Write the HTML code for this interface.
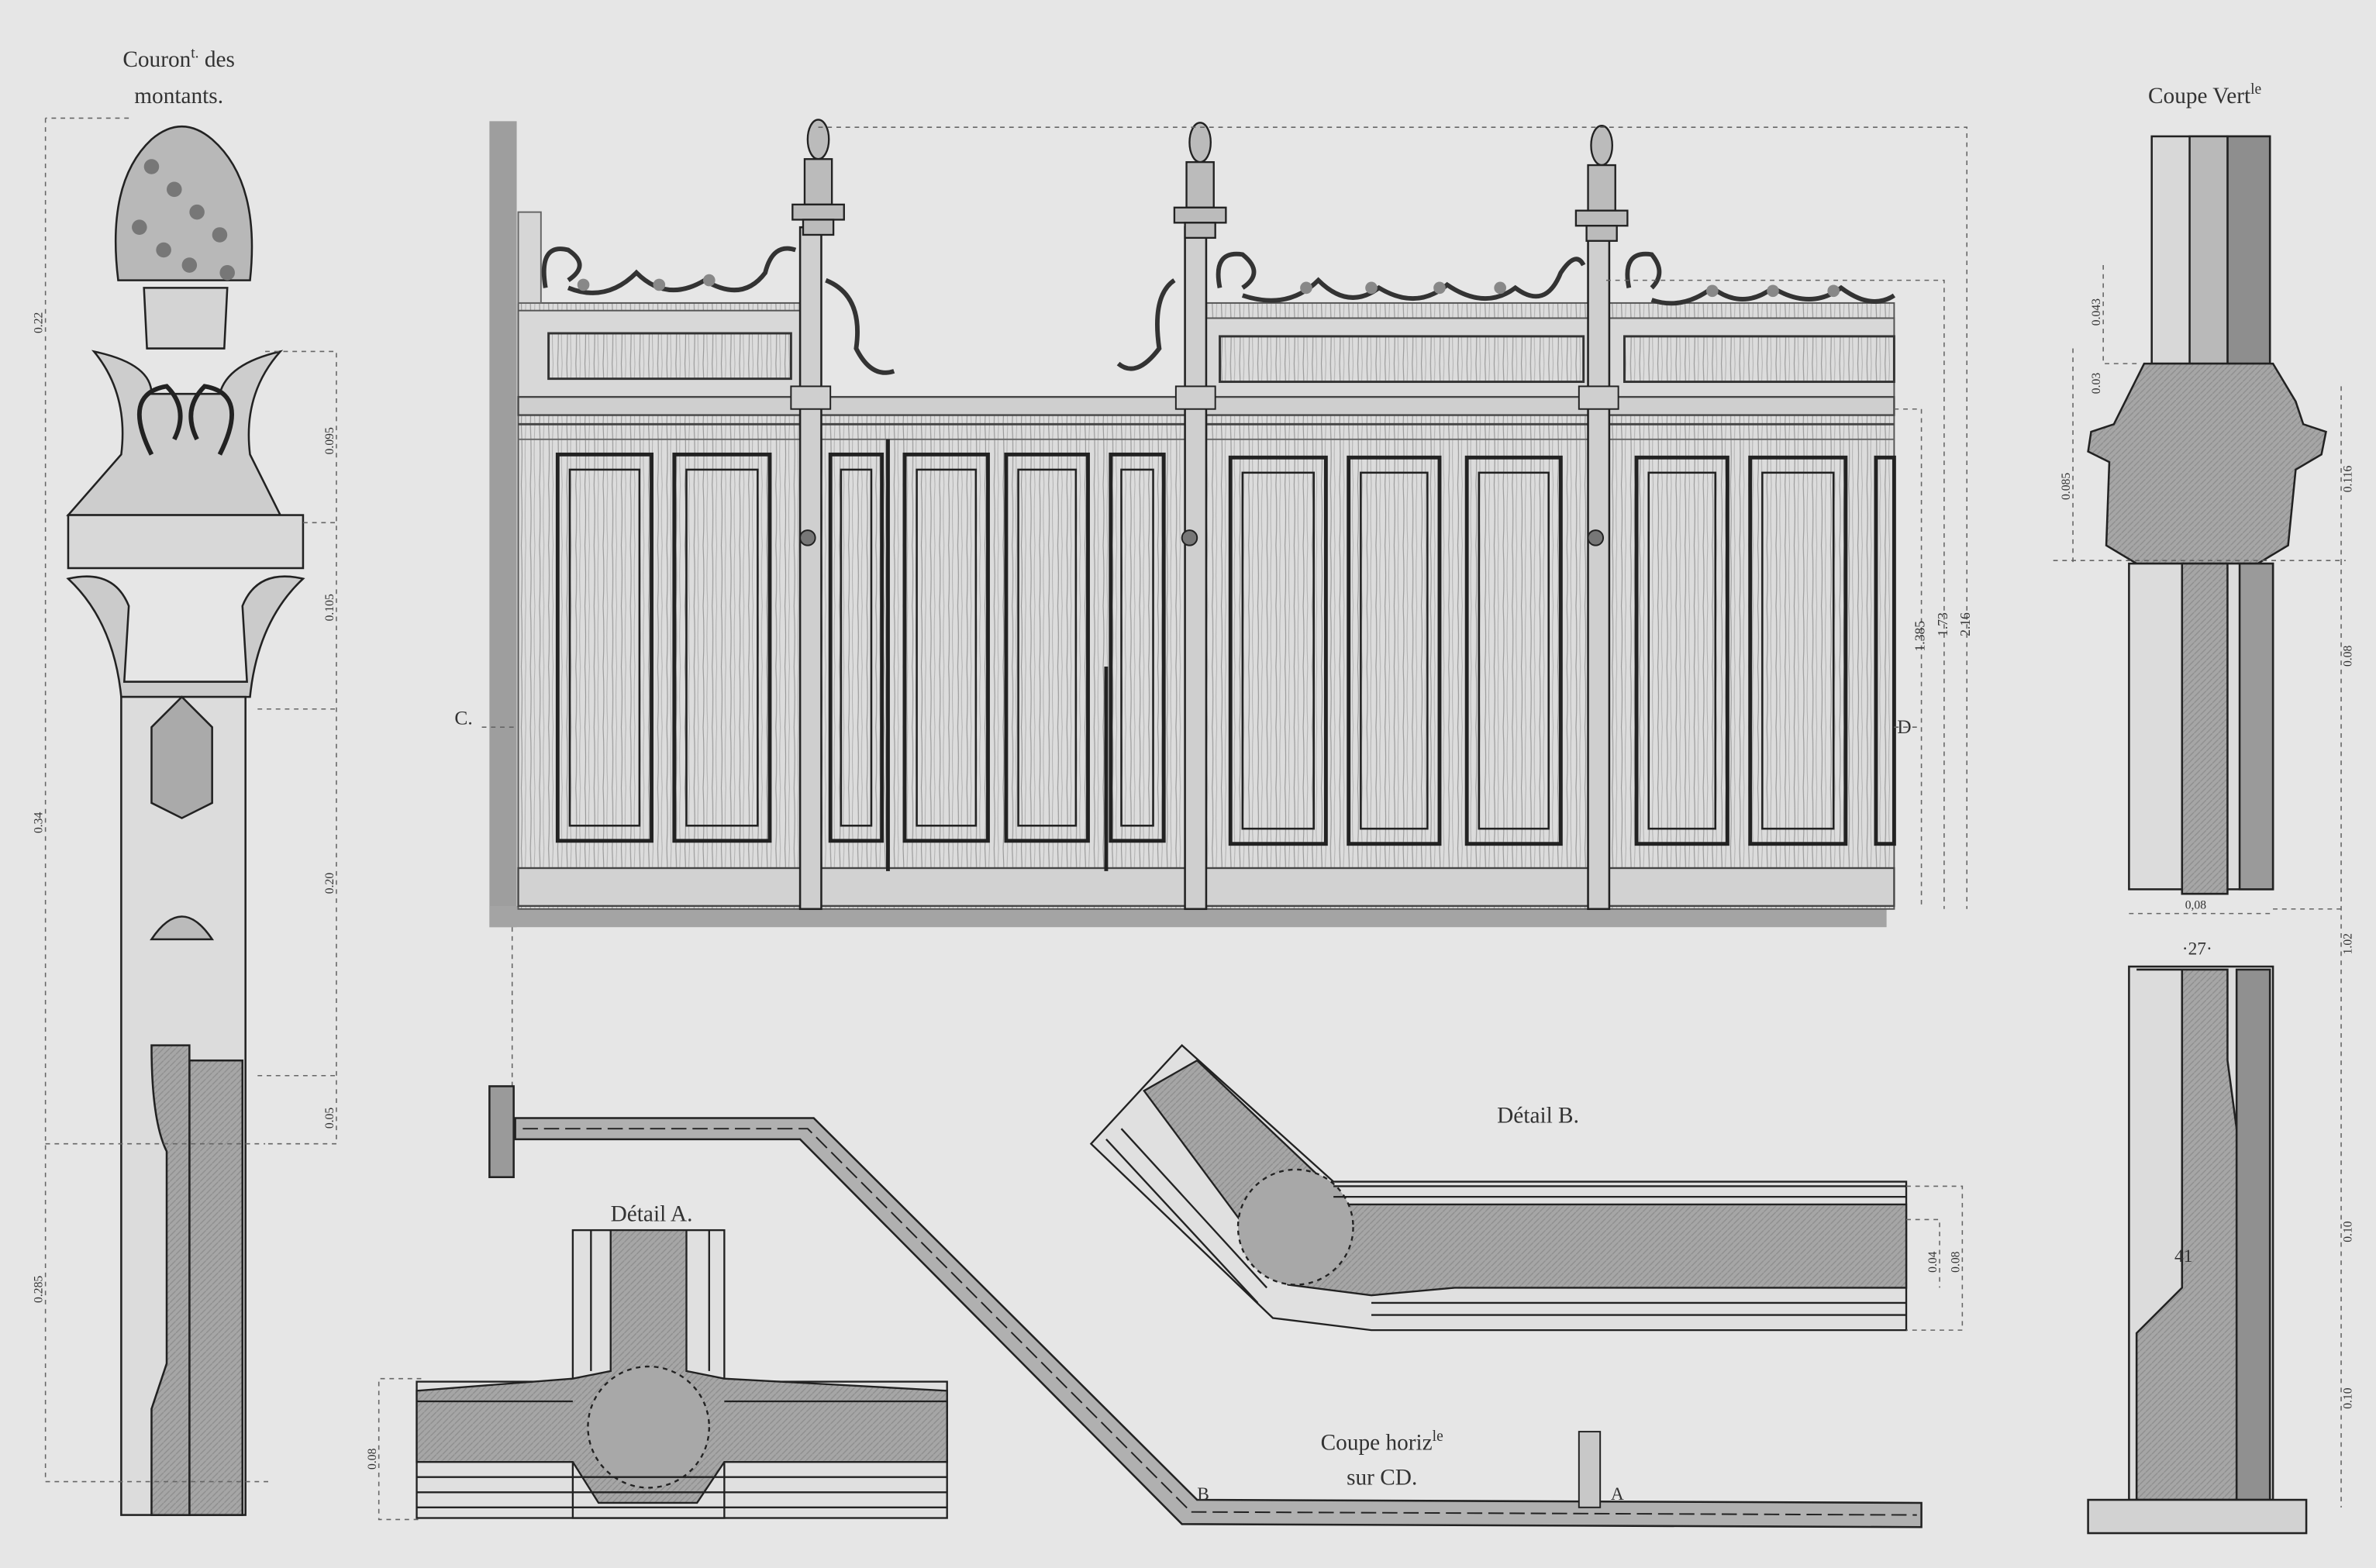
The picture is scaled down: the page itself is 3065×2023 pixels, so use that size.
<!DOCTYPE html>
<html><head><meta charset="utf-8"><style>
html,body{margin:0;padding:0;background:#e6e6e6;}
svg{display:block}
text{font-family:"Liberation Serif",serif;fill:#333}
</style></head><body>
<svg width="3065" height="2023" viewBox="0 0 1568 1035" preserveAspectRatio="none" xmlns="http://www.w3.org/2000/svg">
<defs>
<pattern id="grain" width="6" height="40" patternUnits="userSpaceOnUse">
<rect width="6" height="40" fill="#dcdcdc"/>
<path d="M2 0 Q3 20 2 40" stroke="#9a9a9a" stroke-width="0.6" fill="none"/>
<path d="M5 0 Q4 20 5 40" stroke="#b0b0b0" stroke-width="0.5" fill="none"/>
</pattern>
<pattern id="hatch" width="4" height="4" patternUnits="userSpaceOnUse">
<rect width="4" height="4" fill="#a6a6a6"/>
<path d="M0 4 L4 0" stroke="#8e8e8e" stroke-width="0.7"/>
</pattern>
</defs>
<rect width="1568" height="1035" fill="#e6e6e6"/>

<!-- ===== MAIN ELEVATION ===== -->
<rect x="323" y="80" width="18" height="532" fill="#9e9e9e"/>
<rect x="323" y="598" width="922" height="14" fill="#a4a4a4"/>
<rect x="342" y="200" width="908" height="400" fill="url(#grain)" stroke="#555" stroke-width="1"/>
<rect x="342" y="140" width="15" height="60" fill="#d6d6d6" stroke="#666"/>
<rect x="342" y="205" width="198" height="60" fill="#d8d8d8" stroke="#555"/>
<rect x="362" y="220" width="160" height="30" fill="url(#grain)" stroke="#333" stroke-width="1.5"/>
<rect x="795" y="210" width="455" height="55" fill="#d8d8d8" stroke="#555"/>
<rect x="805" y="222" width="240" height="30" fill="url(#grain)" stroke="#333" stroke-width="1.5"/>
<rect x="1072" y="222" width="178" height="30" fill="url(#grain)" stroke="#333" stroke-width="1.5"/>
<rect x="542" y="195" width="240" height="67" fill="#e6e6e6"/>
<rect x="342" y="262" width="908" height="12" fill="#cfcfcf" stroke="#444" stroke-width="1.2"/>
<line x1="342" y1="280" x2="1250" y2="280" stroke="#444" stroke-width="1.5"/>
<line x1="342" y1="290" x2="1250" y2="290" stroke="#666"/>
<rect x="342" y="573" width="908" height="25" fill="#d2d2d2" stroke="#444" stroke-width="1.2"/>
<g fill="url(#grain)" stroke="#222">
<rect x="368" y="300" width="62" height="255" stroke-width="2.5"/><rect x="376" y="310" width="46" height="235" stroke-width="1.3"/>
<rect x="445" y="300" width="63" height="255" stroke-width="2.5"/><rect x="453" y="310" width="47" height="235" stroke-width="1.3"/>
<rect x="548" y="300" width="34" height="255" stroke-width="2.5"/><rect x="555" y="310" width="20" height="235" stroke-width="1.3"/>
<rect x="597" y="300" width="55" height="255" stroke-width="2.5"/><rect x="605" y="310" width="39" height="235" stroke-width="1.3"/>
<rect x="664" y="300" width="54" height="255" stroke-width="2.5"/><rect x="672" y="310" width="38" height="235" stroke-width="1.3"/>
<rect x="733" y="300" width="35" height="255" stroke-width="2.5"/><rect x="740" y="310" width="21" height="235" stroke-width="1.3"/>
<rect x="812" y="302" width="63" height="255" stroke-width="2.5"/><rect x="820" y="312" width="47" height="235" stroke-width="1.3"/>
<rect x="890" y="302" width="60" height="255" stroke-width="2.5"/><rect x="898" y="312" width="44" height="235" stroke-width="1.3"/>
<rect x="968" y="302" width="62" height="255" stroke-width="2.5"/><rect x="976" y="312" width="46" height="235" stroke-width="1.3"/>
<rect x="1080" y="302" width="60" height="255" stroke-width="2.5"/><rect x="1088" y="312" width="44" height="235" stroke-width="1.3"/>
<rect x="1155" y="302" width="63" height="255" stroke-width="2.5"/><rect x="1163" y="312" width="47" height="235" stroke-width="1.3"/>
<rect x="1238" y="302" width="12" height="255" stroke-width="2.5"/>
</g>
<g stroke="#222" fill="#cfcfcf">
<rect x="528" y="150" width="14" height="450" stroke-width="1.3"/>
<rect x="782" y="150" width="14" height="450" stroke-width="1.3"/>
<rect x="1048" y="150" width="14" height="450" stroke-width="1.3"/>
<rect x="522" y="255" width="26" height="15"/><rect x="776" y="255" width="26" height="15"/><rect x="1042" y="255" width="26" height="15"/>
<circle cx="533" cy="355" r="5" fill="#777"/><circle cx="785" cy="355" r="5" fill="#777"/><circle cx="1053" cy="355" r="5" fill="#777"/>
<line x1="586" y1="290" x2="586" y2="575" stroke-width="2.5"/>
<line x1="730" y1="440" x2="730" y2="575" stroke-width="2.5"/>
</g>
<g fill="#bbb" stroke="#222" stroke-width="1.2">
<ellipse cx="540" cy="92" rx="7" ry="13"/><rect x="531" y="105" width="18" height="30"/><rect x="523" y="135" width="34" height="10"/><rect x="530" y="145" width="20" height="10"/>
<ellipse cx="792" cy="94" rx="7" ry="13"/><rect x="783" y="107" width="18" height="30"/><rect x="775" y="137" width="34" height="10"/><rect x="782" y="147" width="20" height="10"/>
<ellipse cx="1057" cy="96" rx="7" ry="13"/><rect x="1048" y="109" width="18" height="30"/><rect x="1040" y="139" width="34" height="10"/><rect x="1047" y="149" width="20" height="10"/>
</g>
<g fill="none" stroke="#333" stroke-width="3">
<path d="M360 190 Q355 160 375 165 Q390 175 375 185 M375 190 Q400 200 420 180 Q440 200 465 185 Q490 200 505 180 Q510 160 525 165"/>
<path d="M545 185 Q570 195 565 230 Q575 250 590 245"/>
<path d="M775 185 Q760 195 765 230 Q750 250 738 240"/>
<path d="M805 190 Q800 165 820 168 Q835 180 820 190 M820 195 Q850 205 870 185 Q890 205 910 190 Q935 205 955 188 Q980 205 1000 190 Q1020 205 1030 180 Q1040 165 1045 175"/>
<path d="M1075 190 Q1070 165 1090 168 Q1100 180 1090 190 M1090 198 Q1110 205 1130 190 Q1150 205 1170 190 Q1195 205 1215 190 Q1235 205 1250 195"/>
</g>
<g fill="#888"><circle cx="385" cy="188" r="4"/><circle cx="435" cy="188" r="4"/><circle cx="468" cy="185" r="4"/>
<circle cx="862" cy="190" r="4"/><circle cx="905" cy="190" r="4"/><circle cx="950" cy="190" r="4"/><circle cx="990" cy="190" r="4"/>
<circle cx="1130" cy="192" r="4"/><circle cx="1170" cy="192" r="4"/><circle cx="1210" cy="192" r="4"/></g>
<g stroke="#666" stroke-dasharray="3,3" fill="none" stroke-width="0.8">
<path d="M540 84 L1298 84 L1298 600"/><path d="M1060 185 L1283 185 L1283 600"/><path d="M1250 270 L1268 270 L1268 600"/>
<path d="M318 480 L340 480"/><path d="M1250 480 L1265 480"/><path d="M338 612 L338 745"/>
</g>
<text x="300" y="478" font-size="13">C.</text>
<text x="1252" y="484" font-size="13">D</text>
<text x="1270" y="430" font-size="9" transform="rotate(-90 1270 430)">1.385</text>
<text x="1285" y="420" font-size="9" transform="rotate(-90 1285 420)">1.73</text>
<text x="1300" y="420" font-size="9" transform="rotate(-90 1300 420)">2.16</text>

<!-- ===== LEFT COLUMN ===== -->
<text x="118" y="44" font-size="15" text-anchor="middle">Couron<tspan font-size="10" dy="-6">t.</tspan><tspan dy="6"> des</tspan></text>
<text x="118" y="68" font-size="15" text-anchor="middle">montants.</text>
<g stroke="#222" stroke-width="1.3">
<path d="M78 185 Q70 120 100 92 Q120 75 140 92 Q172 120 165 185 Z" fill="#b8b8b8"/>
<path d="M95 190 L150 190 L148 230 L97 230 Z" fill="#d4d4d4"/>
<path d="M62 232 Q100 240 100 260 L145 260 Q150 240 185 232 Q160 260 165 300 L185 340 L45 340 L80 300 Q85 260 62 232 Z" fill="#cdcdcd"/>
<rect x="45" y="340" width="155" height="35" fill="#d8d8d8"/>
<path d="M45 382 Q75 375 85 400 L82 450 L163 450 L160 400 Q170 375 200 382 Q170 410 165 460 L80 460 Q75 410 45 382 Z" fill="#cbcbcb"/>
<rect x="80" y="460" width="82" height="540" fill="#dcdcdc"/>
<rect x="125" y="700" width="35" height="300" fill="url(#hatch)"/>
<path d="M100 690 Q100 740 110 760 L110 900 L100 930 L100 1000 L125 1000 L125 690 Z" fill="url(#hatch)"/>
<path d="M100 620 Q120 590 140 620 L100 620 Z" fill="#bbb"/>
<path d="M120 460 L140 480 L140 530 L120 540 L100 530 L100 480 Z" fill="#aaa"/>
</g>
<g fill="#777"><circle cx="100" cy="110" r="5"/><circle cx="115" cy="125" r="5"/><circle cx="130" cy="140" r="5"/><circle cx="145" cy="155" r="5"/><circle cx="92" cy="150" r="5"/><circle cx="108" cy="165" r="5"/><circle cx="125" cy="175" r="5"/><circle cx="150" cy="180" r="5"/></g>
<g fill="none" stroke="#222" stroke-width="3"><path d="M100 300 Q80 260 110 255 Q125 270 115 290 M145 300 Q165 260 135 255 Q120 270 130 290"/></g>
<g stroke="#666" stroke-dasharray="3,3" fill="none" stroke-width="0.8">
<path d="M30 78 L30 978 L180 978"/><path d="M30 755 L175 755"/><path d="M175 232 L222 232 L222 755 L175 755"/><path d="M200 345 L222 345"/><path d="M170 468 L222 468"/><path d="M170 710 L222 710"/>
<path d="M85 78 L30 78"/>
</g>
<g font-size="8"><text x="28" y="220" transform="rotate(-90 28 220)">0.22</text><text x="28" y="550" transform="rotate(-90 28 550)">0.34</text><text x="28" y="860" transform="rotate(-90 28 860)">0.285</text>
<text x="220" y="300" transform="rotate(-90 220 300)">0.095</text><text x="220" y="410" transform="rotate(-90 220 410)">0.105</text><text x="220" y="590" transform="rotate(-90 220 590)">0.20</text><text x="220" y="745" transform="rotate(-90 220 745)">0.05</text></g>

<!-- ===== RIGHT VERTICAL SECTION ===== -->
<text x="1455" y="68" font-size="15" text-anchor="middle">Coupe Vert<tspan font-size="10" dy="-6">le</tspan></text>
<g stroke="#222" stroke-width="1.3">
<rect x="1420" y="90" width="78" height="150" fill="#d8d8d8"/>
<rect x="1470" y="90" width="28" height="150" fill="#8e8e8e"/>
<rect x="1445" y="90" width="25" height="150" fill="#b9b9b9"/>
<path d="M1415 240 L1500 240 L1515 265 L1520 280 L1535 285 L1532 300 L1515 310 L1510 360 L1490 372 L1410 372 L1390 360 L1392 305 L1378 298 L1380 285 L1395 280 L1405 260 Z" fill="url(#hatch)"/>
<rect x="1405" y="372" width="95" height="215" fill="#dcdcdc"/>
<path d="M1440 372 L1470 372 L1470 590 L1440 590 Z" fill="url(#hatch)"/>
<rect x="1478" y="372" width="22" height="215" fill="#9a9a9a"/>
<rect x="1405" y="638" width="95" height="352" fill="#dcdcdc"/>
<path d="M1410 640 L1470 640 L1470 700 L1478 760 L1478 870 L1495 875 L1495 990 L1410 990 L1410 880 Q1430 860 1440 850 L1440 640 Z" fill="url(#hatch)"/>
<rect x="1476" y="640" width="22" height="350" fill="#909090"/>
<rect x="1378" y="990" width="144" height="22" fill="#d2d2d2"/>
</g>
<g stroke="#666" stroke-dasharray="3,3" fill="none" stroke-width="0.8">
<path d="M1388 175 L1388 240 L1410 240"/><path d="M1368 230 L1368 372"/><path d="M1355 370 L1548 370"/><path d="M1545 255 L1545 370"/><path d="M1545 370 L1545 995"/><path d="M1545 600 L1500 600"/><path d="M1405 603 L1500 603"/>
</g>
<g font-size="8"><text x="1386" y="215" transform="rotate(-90 1386 215)">0.043</text><text x="1386" y="260" transform="rotate(-90 1386 260)">0.03</text><text x="1366" y="330" transform="rotate(-90 1366 330)">0.085</text>
<text x="1552" y="325" transform="rotate(-90 1552 325)">0.116</text><text x="1552" y="440" transform="rotate(-90 1552 440)">0.08</text><text x="1552" y="630" transform="rotate(-90 1552 630)">1.02</text><text x="1552" y="820" transform="rotate(-90 1552 820)">0.10</text><text x="1552" y="930" transform="rotate(-90 1552 930)">0.10</text>
<text x="1442" y="600">0,08</text></g>
<text x="1440" y="630" font-size="12">·27·</text>
<text x="1435" y="833" font-size="12">41</text>

<!-- ===== PLAN CD ===== -->
<g stroke="#222" stroke-width="1.3">
<rect x="323" y="717" width="16" height="60" fill="#9a9a9a"/>
<path d="M340 738 L537 738 L790 990 L1268 992 L1268 1008 L780 1006 L528 752 L340 752 Z" fill="#b0b0b0"/>
</g>
<g stroke="#222" stroke-width="1" fill="none" stroke-dasharray="10,4">
<path d="M345 745 L533 745 L786 998 L1265 1000"/>
</g>
<rect x="1042" y="945" width="14" height="50" fill="#c8c8c8" stroke="#222"/>
<text x="790" y="990" font-size="12">B</text>
<text x="1063" y="990" font-size="12">A</text>
<text x="912" y="957" font-size="15" text-anchor="middle">Coupe horiz<tspan font-size="10" dy="-6">le</tspan></text>
<text x="912" y="980" font-size="15" text-anchor="middle">sur CD.</text>

<!-- ===== DETAIL A ===== -->
<text x="430" y="806" font-size="15" text-anchor="middle">Détail A.</text>
<g stroke="#222" stroke-width="1.2">
<rect x="378" y="812" width="100" height="100" fill="#e0e0e0"/>
<rect x="275" y="912" width="350" height="90" fill="#e0e0e0"/>
<rect x="378" y="912" width="100" height="90" fill="#e0e0e0"/>
<path d="M403 812 L453 812 L453 905 L478 910 L625 918 L625 965 L478 965 L460 992 L395 992 L378 965 L275 965 L275 918 L378 910 L403 905 Z" fill="url(#hatch)"/>
<circle cx="428" cy="942" r="40" fill="#a8a8a8" stroke-dasharray="3,3"/>
<line x1="275" y1="975" x2="625" y2="975"/><line x1="275" y1="985" x2="625" y2="985"/><line x1="275" y1="995" x2="625" y2="995"/>
<line x1="275" y1="925" x2="378" y2="925"/><line x1="478" y1="925" x2="625" y2="925"/>
<line x1="390" y1="812" x2="390" y2="905"/><line x1="468" y1="812" x2="468" y2="905"/>
</g>
<g stroke="#666" stroke-dasharray="3,3" fill="none" stroke-width="0.8"><path d="M278 910 L250 910 L250 1003 L278 1003"/></g>
<text x="248" y="970" font-size="8" transform="rotate(-90 248 970)">0.08</text>

<!-- ===== DETAIL B ===== -->
<text x="1015" y="741" font-size="15" text-anchor="middle">Détail B.</text>
<g stroke="#222" stroke-width="1.2">
<path d="M720 755 L780 690 L880 780 L1258 780 L1258 878 L905 878 L840 870 Z" fill="#e0e0e0"/>
<path d="M755 720 L790 700 L890 795 L1258 795 L1258 850 L960 850 L905 855 L850 848 Z" fill="url(#hatch)"/>
<circle cx="855" cy="810" r="38" fill="#a8a8a8" stroke-dasharray="3,3"/>
<line x1="880" y1="783" x2="1258" y2="783"/><line x1="880" y1="790" x2="1258" y2="790"/>
<line x1="905" y1="860" x2="1258" y2="860"/><line x1="905" y1="868" x2="1258" y2="868"/>
<line x1="730" y1="752" x2="830" y2="860"/><line x1="740" y1="745" x2="836" y2="850"/>
</g>
<g stroke="#666" stroke-dasharray="3,3" fill="none" stroke-width="0.8"><path d="M1258 783 L1295 783 L1295 878 L1258 878"/><path d="M1258 805 L1280 805 L1280 850"/></g>
<text x="1278" y="840" font-size="8" transform="rotate(-90 1278 840)">0.04</text>
<text x="1293" y="840" font-size="8" transform="rotate(-90 1293 840)">0.08</text>
</svg>
</body></html>
